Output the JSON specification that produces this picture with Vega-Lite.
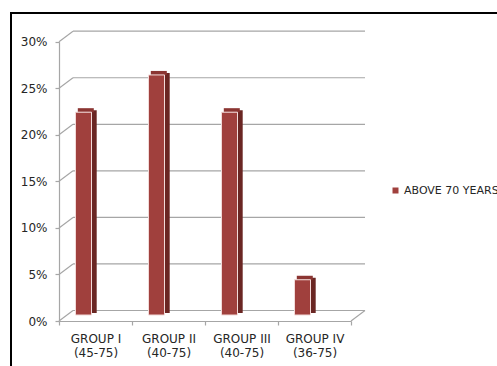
{
  "$schema": "https://vega.github.io/schema/vega-lite/v6.json",
  "width": 486,
  "height": 353,
  "autosize": {"type": "none"},
  "padding": {"left": 11, "top": 13, "right": 0, "bottom": 0},
  "background": "#ffffff",
  "config": {
    "view": {"stroke": "#000000", "strokeWidth": 2, "strokeDash": [486, 839, 353]},
    "font": "DejaVu Sans"
  },
  "datasets": {
    "groups": [
      {"group": "GROUP I (45-75)", "share": 0.22, "series": "ABOVE 70 YEARS"},
      {"group": "GROUP II (40-75)", "share": 0.26, "series": "ABOVE 70 YEARS"},
      {"group": "GROUP III (40-75)", "share": 0.22, "series": "ABOVE 70 YEARS"},
      {"group": "GROUP IV (36-75)", "share": 0.04, "series": "ABOVE 70 YEARS"}
    ],
    "levels": [
      {"v": 0}, {"v": 0.05}, {"v": 0.1}, {"v": 0.15}, {"v": 0.2}, {"v": 0.25}, {"v": 0.3}
    ],
    "floor": [{"v": 0}]
  },
  "layer": [
    {
      "description": "back wall gridlines",
      "data": {"name": "levels"},
      "mark": {"type": "rule", "color": "#A6A6A6", "strokeWidth": 1.2, "xOffset": 14, "x2Offset": 14, "yOffset": -10.5},
      "encoding": {
        "x": {"datum": "GROUP I (45-75)", "type": "nominal", "bandPosition": 0, "title": null},
        "x2": {"datum": "GROUP IV (36-75)", "bandPosition": 1},
        "y": {"field": "v", "type": "quantitative", "title": null}
      }
    },
    {
      "description": "side wall depth lines from the front axis ticks",
      "data": {"name": "levels"},
      "mark": {"type": "rule", "color": "#A6A6A6", "strokeWidth": 1.2, "x2Offset": 14, "y2Offset": -10.5},
      "encoding": {
        "x": {"datum": "GROUP I (45-75)", "type": "nominal", "bandPosition": 0, "title": null},
        "x2": {"datum": "GROUP I (45-75)", "bandPosition": 0},
        "y": {"field": "v", "type": "quantitative", "title": null},
        "y2": {"field": "v"}
      }
    },
    {
      "description": "right edge of the floor",
      "data": {"name": "floor"},
      "mark": {"type": "rule", "color": "#A6A6A6", "strokeWidth": 1.2, "x2Offset": 14, "y2Offset": -10.5},
      "encoding": {
        "x": {"datum": "GROUP IV (36-75)", "type": "nominal", "bandPosition": 1, "title": null},
        "x2": {"datum": "GROUP IV (36-75)", "bandPosition": 1},
        "y": {"field": "v", "type": "quantitative", "title": null},
        "y2": {"field": "v"}
      }
    },
    {
      "description": "column side faces",
      "data": {"name": "groups"},
      "mark": {"type": "bar", "color": "#6A2623", "width": 5, "xOffset": -1.3, "yOffset": -6, "y2Offset": -8},
      "encoding": {
        "x": {"field": "group", "type": "nominal", "sort": null, "title": null},
        "y": {"field": "share", "type": "quantitative", "title": null},
        "y2": {"datum": 0}
      }
    },
    {
      "description": "column top faces",
      "data": {"name": "groups"},
      "mark": {"type": "bar", "color": "#8B3532", "width": 16, "xOffset": -9.7, "yOffset": -8, "y2Offset": -4},
      "encoding": {
        "x": {"field": "group", "type": "nominal", "sort": null, "title": null},
        "y": {"field": "share", "type": "quantitative", "title": null},
        "y2": {"field": "share"}
      }
    },
    {
      "description": "column front faces",
      "data": {"name": "groups"},
      "mark": {"type": "bar", "width": 16, "xOffset": -12, "yOffset": -4, "y2Offset": -6, "stroke": "#F2DAD9", "strokeWidth": 1},
      "encoding": {
        "x": {
          "field": "group",
          "type": "nominal",
          "sort": null,
          "title": null,
          "scale": {
            "domain": ["GROUP I (45-75)", "GROUP II (40-75)", "GROUP III (40-75)", "GROUP IV (36-75)"],
            "range": [48, 340],
            "paddingInner": 0,
            "paddingOuter": 0
          },
          "axis": {
            "orient": "bottom",
            "offset": -45,
            "domainColor": "#A6A6A6",
            "domainWidth": 1.2,
            "tickColor": "#A6A6A6",
            "tickWidth": 1.2,
            "tickSize": 4,
            "tickBand": "extent",
            "labelAngle": 0,
            "labelAlign": "center",
            "labelPadding": 13,
            "labelFont": "DejaVu Sans",
            "labelFontSize": 12,
            "labelColor": "#262626",
            "labelLineHeight": 14.5,
            "labelExpr": "[slice(datum.label, 0, indexof(datum.label, ' (')), slice(datum.label, indexof(datum.label, ' (') + 1)]"
          }
        },
        "y": {
          "field": "share",
          "type": "quantitative",
          "title": null,
          "scale": {"domain": [0, 0.3], "range": [308, 28.7], "nice": false, "zero": true},
          "axis": {
            "orient": "left",
            "offset": -48,
            "values": [0, 0.05, 0.1, 0.15, 0.2, 0.25, 0.3],
            "format": ".0%",
            "grid": false,
            "domainColor": "#A6A6A6",
            "domainWidth": 1.2,
            "tickColor": "#A6A6A6",
            "tickWidth": 1.2,
            "tickSize": 4,
            "labelPadding": 8,
            "labelFont": "DejaVu Sans",
            "labelFontSize": 12,
            "labelColor": "#262626"
          }
        },
        "y2": {"datum": 0},
        "color": {
          "field": "series",
          "type": "nominal",
          "scale": {"range": ["#A0403D"]},
          "legend": {
            "title": null,
            "orient": "none",
            "legendX": 379,
            "legendY": 172,
            "symbolType": "square",
            "symbolSize": 36,
            "symbolStrokeWidth": 0,
            "labelFont": "DejaVu Sans",
            "labelFontSize": 11,
            "labelColor": "#262626",
            "labelOffset": 3,
            "padding": 0
          }
        }
      }
    }
  ]
}
